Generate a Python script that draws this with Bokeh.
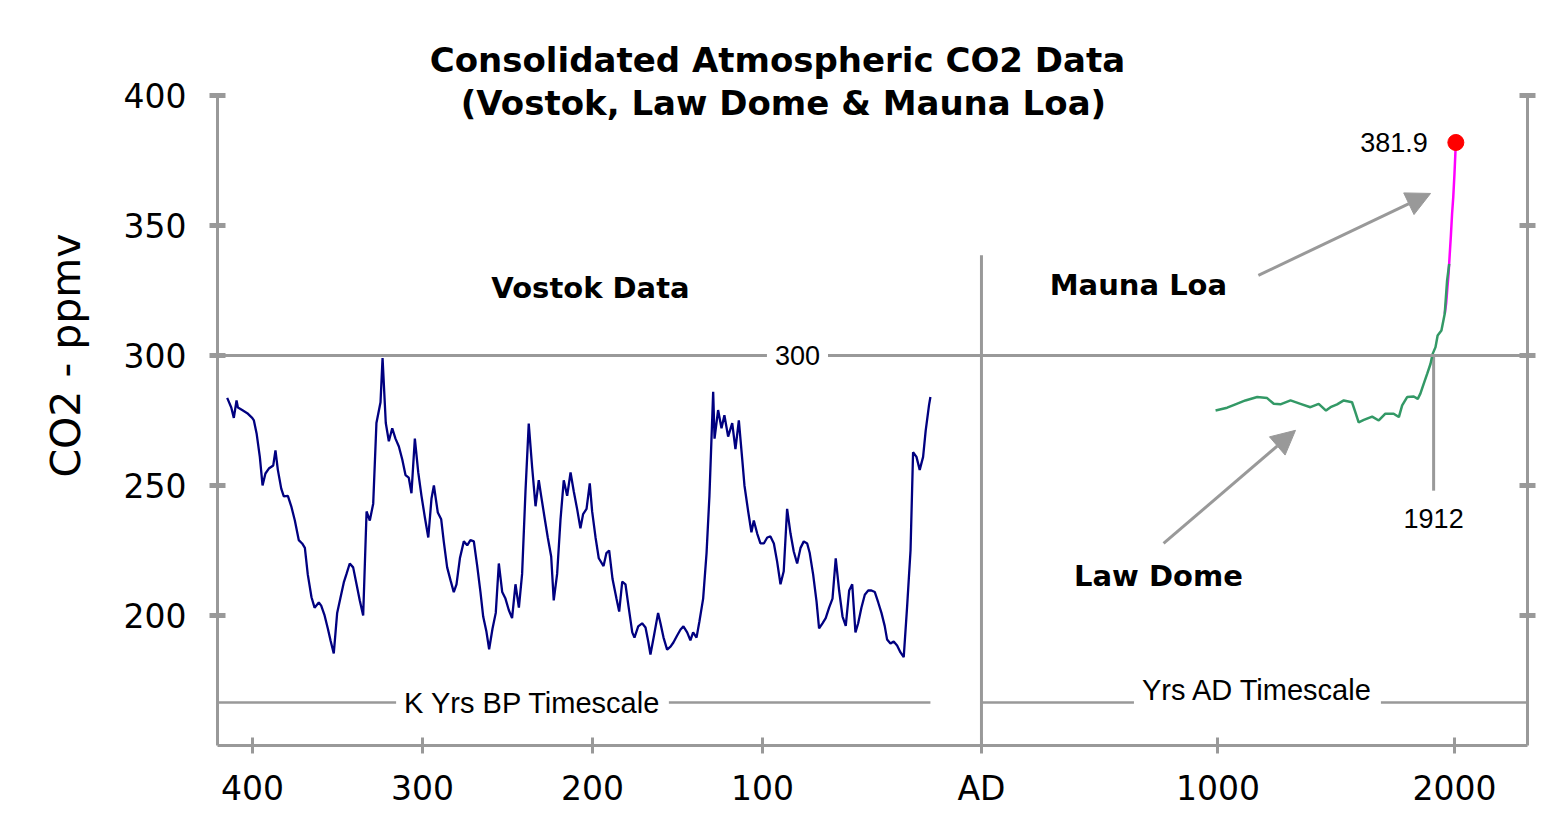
import math
from bokeh.plotting import figure
from bokeh.models import Range1d, LinearAxis, FixedTicker, Label, Arrow, NormalHead, Span, Title
from bokeh.embed import file_html
from bokeh.resources import INLINE

# ---------------- data ----------------
# Vostok ice core: age in thousands of years before present, CO2 in ppmv
vostok_kyr = [414.9, 412.5, 411.0, 409.4, 408.6, 406.1, 403.1, 400.2, 399.2, 397.6, 395.7, 394.1,
              392.4, 390.4, 387.8, 386.5, 385.1, 383.1, 381.6, 379.2, 377.2, 375.1, 372.8, 370.8,
              369.2, 367.5, 365.3, 363.5, 361.0, 359.6, 357.6, 355.7, 354.1, 352.2, 350.2, 348.2,
              346.3, 344.7, 342.8, 340.8, 338.8, 336.9, 334.9, 332.9, 331.0, 329.0, 327.1, 324.7,
              323.5, 321.6, 319.8, 317.8, 315.9, 313.9, 311.9, 310.0, 308.1, 306.5, 304.5, 302.5,
              300.6, 298.6, 296.6, 294.7, 293.3, 291.0, 289.0, 287.5, 285.5, 283.5, 281.6, 280.0,
              278.0, 275.7, 273.7, 271.8, 269.8, 267.8, 265.9, 264.3, 262.4, 260.8, 258.8, 256.9,
              255.1, 253.1, 251.2, 249.2, 247.3, 245.3, 243.3, 241.4, 239.4, 237.5, 235.5, 233.5,
              231.6, 230.2, 228.2, 226.3, 224.3, 222.8, 220.8, 218.8, 216.9, 214.9, 212.9, 211.0,
              209.0, 207.1, 205.5, 203.5, 201.6, 200.2, 198.2, 196.3, 193.5, 191.8, 190.2, 188.2,
              185.9, 184.3, 182.5, 180.6, 178.8, 176.6, 175.3, 173.1, 170.8, 168.8, 167.2, 165.9,
              163.7, 161.4, 160.0, 158.2, 156.1, 154.1, 152.4, 150.2, 148.2, 146.5, 144.3, 142.4,
              140.8, 138.8, 137.1, 134.9, 132.9, 131.2, 129.0, 128.2, 126.1, 124.1, 122.4, 120.2,
              117.8, 115.9, 113.9, 111.9, 110.6, 108.4, 106.5, 105.1, 103.1, 101.2, 99.2, 97.2,
              95.3, 93.3, 91.4, 89.4, 87.5, 85.5, 83.5, 81.6, 79.6, 77.6, 75.7, 73.7,
              72.2, 70.2, 68.2, 66.7, 64.7, 62.8, 60.8, 58.8, 56.9, 54.9, 52.9, 51.0,
              49.0, 47.2, 45.3, 43.7, 41.8, 39.8, 37.8, 35.9, 33.9, 31.9, 30.0, 28.1,
              26.7, 24.7, 22.8, 20.8, 18.8, 16.9, 14.9, 12.9, 11.4, 9.4, 7.5, 5.5,
              4.0, 2.0, 1.2]
vostok_co2 = [283.7, 280.0, 276.0, 282.7, 280.0, 279.0, 277.8, 276.0, 275.0, 270.0, 261.0, 250.0,
              254.6, 256.5, 257.7, 263.5, 256.0, 248.8, 245.8, 246.0, 242.0, 236.5, 229.0, 227.7,
              226.0, 215.8, 207.0, 203.0, 205.0, 203.8, 200.0, 195.0, 190.4, 185.4, 201.0, 207.0,
              212.7, 216.0, 220.0, 218.5, 212.0, 205.8, 200.0, 240.0, 236.5, 243.0, 274.0, 282.0,
              299.0, 274.0, 267.0, 272.0, 268.0, 265.0, 260.0, 254.0, 253.0, 247.0, 268.0, 255.0,
              246.0, 237.7, 230.0, 245.0, 250.0, 239.6, 237.0, 228.5, 218.5, 213.5, 209.0, 212.0,
              222.0, 228.5, 227.0, 229.0, 228.5, 219.0, 209.0, 199.6, 193.8, 187.0, 195.0, 201.0,
              220.0, 209.0, 206.5, 202.0, 199.0, 212.0, 203.0, 216.0, 248.0, 273.8, 257.0, 242.0,
              252.0, 246.0, 237.7, 230.0, 222.7, 205.8, 216.0, 237.0, 252.0, 246.0, 255.0, 247.7,
              240.8, 233.5, 239.0, 241.0, 250.8, 240.0, 230.0, 222.0, 219.0, 224.0, 225.0, 214.0,
              206.5, 201.5, 213.0, 212.0, 203.5, 193.5, 191.5, 195.8, 197.0, 195.4, 190.0, 185.0,
              192.7, 201.0, 197.0, 191.5, 186.9, 188.0, 189.6, 192.3, 194.6, 195.8, 193.5, 190.4,
              193.5, 191.5, 197.7, 206.5, 224.0, 246.0, 286.0, 268.0, 279.0, 272.0, 277.0, 268.8,
              274.0, 264.0, 275.0, 260.0, 250.0, 240.0, 232.0, 236.5, 231.5, 227.7, 227.7, 230.0,
              230.4, 227.7, 220.8, 212.0, 217.0, 241.0, 231.5, 224.6, 220.0, 226.0, 228.5, 227.7,
              224.0, 215.8, 205.4, 195.0, 197.0, 199.0, 203.0, 206.5, 222.0, 209.6, 199.6, 196.0,
              209.6, 212.0, 193.5, 197.0, 203.0, 208.0, 209.6, 209.6, 209.0, 205.0, 201.0, 196.0,
              190.8, 189.2, 190.0, 188.5, 185.8, 184.0, 203.5, 225.0, 262.8, 261.0, 256.0, 261.0,
              271.0, 281.0, 284.0]

# Law Dome ice core: year AD, CO2 ppmv
lawdome_year = [990, 1039, 1074, 1116, 1166, 1208, 1236, 1264, 1307, 1349, 1391, 1426, 1457, 1476,
                1504, 1532, 1567, 1581, 1595, 1617, 1652, 1680, 1708, 1743, 1765, 1779, 1800, 1828,
                1845, 1856, 1870, 1885, 1899, 1908, 1920, 1929, 1945, 1959, 1969, 1978]
lawdome_co2 = [278.8, 279.9, 281.2, 282.7, 284.0, 283.6, 281.4, 281.2, 282.7, 281.4, 280.1, 281.4,
               278.8, 280.1, 281.2, 282.7, 282.0, 278.2, 274.3, 275.2, 276.5, 275.0, 277.6, 277.6,
               276.3, 280.8, 284.0, 284.2, 283.3, 285.3, 289.1, 293.0, 296.8, 300.6, 303.2, 307.7,
               309.6, 316.0, 328.8, 335.2]

# Mauna Loa: year AD, CO2 ppmv
mauna_year = [1959, 1965, 1970, 1975, 1980, 1985, 1990, 1995, 2000, 2006]
mauna_co2 = [316.0, 320.0, 325.7, 331.1, 338.7, 346.1, 354.4, 360.8, 369.5, 381.9]

latest_year = [2006]
latest_co2 = [381.9]
marker_year = 1912

y_ticks = [200, 250, 300, 350, 400]
bp_tick_kyr = [400, 300, 200, 100]
bp_tick_labels = ["400", "300", "200", "100"]
ad_tick_year = [0, 1000, 2000]
ad_tick_labels = ["AD", "1000", "2000"]

# ---------------- composite time axis ----------------
# right part: 1 unit = 1 year AD; left part: kyr BP compressed and placed left of AD
AD_GAP = 207.2
KYR_SCALE = 7.188


def bp_to_x(k):
    return -AD_GAP - KYR_SCALE * k


X_START, X_END = bp_to_x(420.6), 2309
Y_BOTTOM, Y_TOP = 150, 436.5   # frame runs up to the top of the canvas; axes stop at 400
vostok_x = [bp_to_x(k) for k in vostok_kyr]

GRAY = "#999999"

p = figure(width=1564, height=832, x_range=Range1d(X_START, X_END), y_range=Range1d(Y_BOTTOM, Y_TOP),
           output_backend="svg", toolbar_location=None, x_axis_type=None, y_axis_type=None,
           min_border_left=217, min_border_right=37, min_border_top=0, min_border_bottom=87)
p.outline_line_color = None
p.background_fill_color = "white"
p.border_fill_color = "white"


def style_axis(ax, tick_w):
    ax.axis_line_color = GRAY
    ax.axis_line_width = 3
    ax.major_tick_line_color = GRAY
    ax.major_tick_line_width = tick_w
    ax.major_tick_in = 8
    ax.major_tick_out = 8
    ax.minor_tick_line_color = None
    ax.major_label_text_font = "DejaVu Sans"
    ax.major_label_text_font_size = "33px"
    ax.major_label_text_color = "black"


left = LinearAxis(ticker=FixedTicker(ticks=y_ticks), bounds=(150, 400))
style_axis(left, 5)
left.major_label_standoff = 23
p.add_layout(left, "left")

p.add_layout(Title(text="CO2 - ppmv", align="right", offset=233, standoff=62,
                   text_font="DejaVu Sans", text_font_size="41px", text_font_style="normal",
                   text_color="black"), "left")

right = LinearAxis(ticker=FixedTicker(ticks=y_ticks), bounds=(150, 400),
                   major_label_overrides={t: "" for t in y_ticks})
style_axis(right, 5)
right.major_label_text_font_size = "1px"
right.major_label_standoff = 0
p.add_layout(right, "right")

xt = [round(bp_to_x(k)) for k in bp_tick_kyr] + ad_tick_year
overrides = {t: lab for t, lab in zip(xt, bp_tick_labels + ad_tick_labels)}
bottom = LinearAxis(ticker=FixedTicker(ticks=xt), major_label_overrides=overrides)
style_axis(bottom, 3)
bottom.major_label_standoff = 15
p.add_layout(bottom, "below")

# reference lines
p.add_layout(Span(location=300, dimension="width", line_color=GRAY, line_width=3))
p.segment(x0=[0], y0=[150], x1=[0], y1=[338.5], line_color=GRAY, line_width=3)
p.segment(x0=[marker_year], y0=[300], x1=[marker_year], y1=[248], line_color=GRAY, line_width=3)
p.segment(x0=[X_START, 0], y0=[166.5, 166.5], x1=[bp_to_x(1.2), X_END], y1=[166.5, 166.5],
          line_color=GRAY, line_width=2.5)

# data
p.line(vostok_x, vostok_co2, line_color="#000080", line_width=2.3)
p.line(mauna_year, mauna_co2, line_color="#ff00ff", line_width=2.5)
p.line(lawdome_year, lawdome_co2, line_color="#339966", line_width=2.5)
p.scatter(latest_year, latest_co2, size=16, fill_color="#ff0000", line_color="#ff0000")

# arrows
p.add_layout(Arrow(end=NormalHead(size=24, fill_color=GRAY, line_color=GRAY),
                   x_start=1171, y_start=330.8, x_end=1899, y_end=362.3,
                   line_color=GRAY, line_width=3))
p.add_layout(Arrow(end=NormalHead(size=24, fill_color=GRAY, line_color=GRAY),
                   x_start=770, y_start=227.7, x_end=1328, y_end=271.2,
                   line_color=GRAY, line_width=3))


def lab(x, y, text, size, font="DejaVu Sans", style="normal", align="center",
        baseline="middle", bg=None, x_offset=0, pad=0):
    kw = dict(x=x, y=y, text=text, text_font=font, text_font_size=size, text_font_style=style,
              text_align=align, text_baseline=baseline, text_color="black", x_offset=x_offset)
    if bg:
        kw["background_fill_color"] = bg
        kw["padding"] = pad
    p.add_layout(Label(**kw))


SANS = "Liberation Sans"
# titles
lab(-862.6, 413.5, "Consolidated Atmospheric CO2 Data", "34px", style="bold")
lab(-837.2, 396.9, "(Vostok, Law Dome & Mauna Loa)", "34px", style="bold")
# in-plot annotations
lab(-1653.3, 325.8, "Vostok Data", "29px", style="bold")
lab(663.8, 326.9, "Mauna Loa", "29px", style="bold")
lab(748.4, 215.0, "Law Dome", "29px", style="bold")
lab(-778.0, 300.0, "300", "27px", font=SANS, bg="white", pad=8)
lab(-1898.5, 166.5, "K Yrs BP Timescale", "29px", font=SANS, bg="white", pad=8)
lab(1167.0, 171.2, "Yrs AD Timescale", "29px", font=SANS, bg="white", pad=8)
lab(latest_year[0], latest_co2[0], "381.9", "27px", font=SANS, align="right", x_offset=-28)
lab(marker_year, 237.3, "1912", "27px", font=SANS)

open("out.html", "w").write(file_html(p, INLINE))
